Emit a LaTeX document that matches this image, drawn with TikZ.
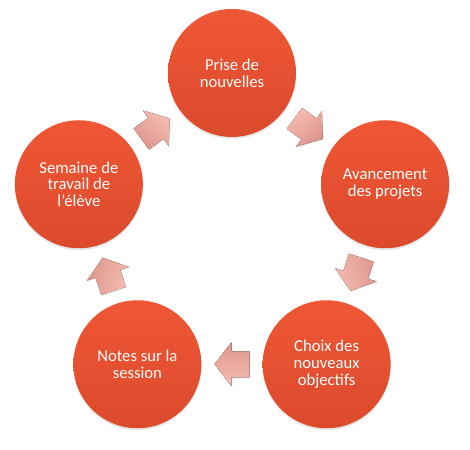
\documentclass[tikz,border=0pt]{standalone}
\usepackage{fontspec}
\setmainfont{Carlito}
\usepackage{xcolor}
\usepackage{tikz}
\usetikzlibrary{shapes, positioning, calc, shadows}

\definecolor{stageTop}{RGB}{239,87,53}
\definecolor{stageBot}{RGB}{219,74,44}
\definecolor{flowTop}{RGB}{245,188,178}
\definecolor{flowBot}{RGB}{222,150,140}

% block arrow at a point, turned by an angle
\newcommand{\flowarrow}[2]{%
	\fill[flow, shift={#1}, rotate=#2, shading angle=-#2]
		(-17.5,-13) -- (0.5,-13) -- (0.5,-22) -- (17.5,0) -- (0.5,22) -- (0.5,13) -- (-17.5,13) -- cycle;}

\begin{document}
\begin{tikzpicture}[x=0.75pt, y=0.75pt]
		\tikzstyle{stage}=[circle, minimum size=96pt, inner sep=0pt, align=center, text=white, font=\fontsize{12.5}{12.5}\selectfont, top color=stageTop, bottom color=stageBot, drop shadow={shadow xshift=0pt, shadow yshift=-1.5pt, opacity=0.18}]
		\tikzstyle{flow}=[top color=flowTop, bottom color=flowBot, drop shadow={shadow xshift=0.8pt, shadow yshift=-0.8pt, opacity=0.12}]
		
		\useasboundingbox (0,0) rectangle (470,449);
		\coordinate (mid) at (232,215);
		
		\node (prise) at ($(mid)+(90:161)$) [stage] {Prise de\\nouvelles};
		\node (avanc) at ($(mid)+(18:161)$) [stage] {Avancement\\des projets};
		\node (choix) at ($(mid)+(-54:161)$) [stage] {Choix des\\nouveaux\\objectifs};
		\node (notes) at ($(mid)+(-126:161)$) [stage] {Notes sur la\\session};
		\node (semaine) at ($(mid)+(162:161)$) [stage] {Semaine de\\travail de\\l’élève};
		
		\coordinate (fA) at ($(prise)!0.5!(avanc)$);
		\coordinate (fB) at ($(avanc)!0.5!(choix)$);
		\coordinate (fC) at ($(choix)!0.5!(notes)$);
		\coordinate (fD) at ($(notes)!0.5!(semaine)$);
		\coordinate (fE) at ($(semaine)!0.5!(prise)$);
		
		\flowarrow{(fA)}{-36}
		\flowarrow{(fB)}{-108}
		\flowarrow{(fC)}{180}
		\flowarrow{(fD)}{108}
		\flowarrow{(fE)}{36}
		
\end{tikzpicture}
\end{document}
